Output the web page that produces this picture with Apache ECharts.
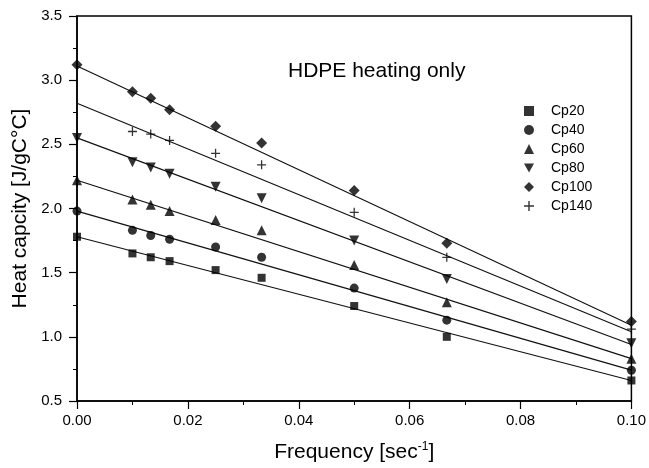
<html>
<head>
<meta charset="utf-8">
<title>HDPE heating only</title>
<script src="https://cdn.jsdelivr.net/npm/echarts@6/dist/echarts.min.js"></script>
<style>
  body { margin: 0; background: #fff; }
  #main { width: 649px; height: 468px; }
</style>
</head>
<body>
<div id="main"></div>
<script>
// frequency [1/s] for each measured point
var freq = [0, 0.01, 0.0133, 0.0167, 0.025, 0.0333, 0.05, 0.0667, 0.1]

var names = ['Cp20', 'Cp40', 'Cp60', 'Cp80', 'Cp100', 'Cp140']
var cp20 = [1.78, 1.65, 1.62, 1.59, 1.52, 1.46, 1.24, 1.00, 0.66]
var cp40 = [1.98, 1.83, 1.79, 1.76, 1.70, 1.62, 1.38, 1.13, 0.74]
var cp60 = [2.22, 2.07, 2.03, 1.98, 1.91, 1.83, 1.56, 1.27, 0.83]
var cp80 = [2.55, 2.36, 2.32, 2.27, 2.17, 2.08, 1.75, 1.45, 0.95]
var cp100 = [3.12, 2.91, 2.86, 2.77, 2.64, 2.51, 2.14, 1.73, 1.12]
var cp140 = [null, 2.60, 2.58, 2.53, 2.43, 2.34, 1.97, 1.62, 1.06]

// linear fit lines, value at f=0 and at f=0.1
var fitStart = [1.78, 1.98, 2.22, 2.55, 3.11, 2.82]
var fitEnd = [0.66, 0.74, 0.83, 0.94, 1.09, 1.04]

var allCp = [cp20, cp40, cp60, cp80, cp100, cp140]
var symbols = [
  'rect',
  'circle',
  'triangle',
  'path://M0,0L10,0L5,9Z',
  'diamond',
  'path://M4.3,0h1.4v4.3h4.3v1.4h-4.3v4.3h-1.4v-4.3h-4.3v-1.4h4.3z'
]
var sizes = [8, 9, 10, 10, 11, 9]

var font = 'Liberation Sans, Arial, sans-serif'
var series = []
for (var i = 0; i < names.length; i++) {
  var pts = []
  for (var j = 0; j < freq.length; j++) {
    if (allCp[i][j] != null) pts.push([freq[j], allCp[i][j]])
  }
  series.push({
    name: 'fit' + i,
    type: 'line',
    data: [[0, fitStart[i]], [0.1, fitEnd[i]]],
    showSymbol: false,
    lineStyle: { color: '#111', width: 1.2 },
    silent: true,
    z: 1
  })
  series.push({
    name: names[i],
    type: 'scatter',
    data: pts,
    symbol: symbols[i],
    symbolSize: sizes[i],
    itemStyle: { color: '#000' },
    z: 3
  })
}

var myChart = echarts.init(document.getElementById('main'))
var option = {
  animation: false,
  backgroundColor: '#fff',
  textStyle: { fontFamily: font },
  grid: {
    left: 77, right: 16, top: 16, bottom: 67,
    show: true, borderColor: '#000', borderWidth: 1.5
  },
  title: {
    text: 'HDPE heating only',
    left: 283, top: 56,
    textStyle: { fontFamily: font, fontSize: 21, fontWeight: 'normal', color: '#000' }
  },
  legend: {
    data: names,
    orient: 'vertical',
    left: 519, top: 99,
    itemWidth: 10, itemHeight: 10, itemGap: 5,
    textStyle: { fontFamily: font, fontSize: 14, lineHeight: 14, color: '#000', padding: [0, 0, 0, 12] }
  },
  xAxis: {
    type: 'value',
    min: 0, max: 0.1, interval: 0.02,
    name: 'Frequency [sec{sup|-1}]',
    nameLocation: 'middle',
    nameGap: 40,
    nameTextStyle: {
      fontFamily: font, fontSize: 21, color: '#000',
      rich: { sup: { fontFamily: font, fontSize: 12, verticalAlign: 'top', color: '#000', padding: [0, 0, 10, 0] } }
    },
    axisLine: { lineStyle: { color: '#000', width: 1.5 } },
    axisTick: { inside: false, length: 8, lineStyle: { color: '#000', width: 1.2 } },
    minorTick: { show: true, splitNumber: 2, length: 4, lineStyle: { color: '#000' } },
    splitLine: { show: false },
    axisLabel: {
      fontFamily: font, fontSize: 15, color: '#000', margin: 12,
      formatter: function (v) { return v.toFixed(2) }
    }
  },
  yAxis: {
    type: 'value',
    min: 0.5, max: 3.5, interval: 0.5,
    name: 'Heat capcity [J/gC°C]',
    nameLocation: 'middle',
    nameGap: 46,
    nameTextStyle: { fontFamily: font, fontSize: 21, color: '#000' },
    axisLine: { lineStyle: { color: '#000', width: 1.5 } },
    axisTick: { inside: false, length: 8, lineStyle: { color: '#000', width: 1.2 } },
    minorTick: { show: true, splitNumber: 2, length: 4, lineStyle: { color: '#000' } },
    splitLine: { show: false },
    axisLabel: {
      fontFamily: font, fontSize: 15, color: '#000', margin: 15,
      formatter: function (v) { return v.toFixed(1) }
    }
  },
  series: series
}
myChart.setOption(option)
</script>
</body>
</html>
